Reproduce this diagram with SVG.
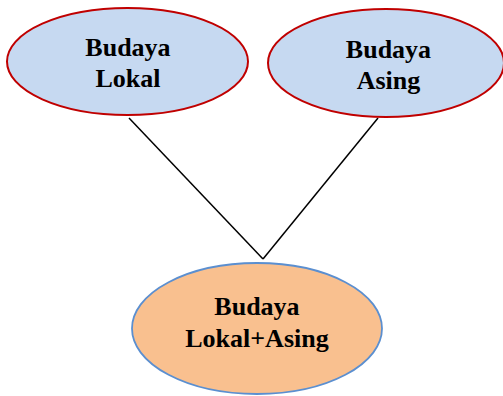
<svg xmlns="http://www.w3.org/2000/svg" width="503" height="396" viewBox="0 0 503 396">
<style>
.top{fill:#C6D9F1;stroke:#C00000;stroke-width:2}
.bot{fill:#F9C08F;stroke:#5B8FD0;stroke-width:1.8}
.lbl{font-family:"Liberation Serif",serif;font-weight:bold;font-size:26px;fill:#000;text-anchor:middle}
.conn{stroke:#000;stroke-width:1.5;fill:none}
</style>
<rect width="503" height="396" fill="#fff"/>
<g id="connectors">
<line class="conn" x1="129" y1="118" x2="263" y2="259"/>
<line class="conn" x1="378" y1="118" x2="263" y2="259"/>
</g>
<g id="budaya-lokal">
<ellipse class="top" cx="127.5" cy="61.5" rx="120.5" ry="53.5"/>
<text class="lbl" x="128" y="56">Budaya</text>
<text class="lbl" x="128" y="87">Lokal</text>
</g>
<g id="budaya-asing">
<ellipse class="top" cx="386" cy="63" rx="118" ry="54"/>
<text class="lbl" x="388.5" y="58">Budaya</text>
<text class="lbl" x="388.5" y="89">Asing</text>
</g>
<g id="budaya-lokal-asing">
<ellipse class="bot" cx="257" cy="328.5" rx="125" ry="65.5"/>
<text class="lbl" x="257" y="315">Budaya</text>
<text class="lbl" x="257" y="347">Lokal+Asing</text>
</g>
</svg>
